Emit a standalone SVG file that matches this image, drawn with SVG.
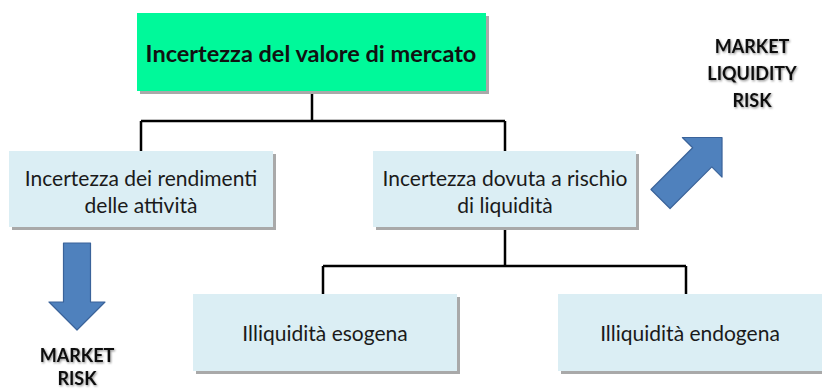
<svg xmlns="http://www.w3.org/2000/svg" width="822" height="390" viewBox="0 0 822 390">
<defs>
<style>
.shadow{fill:#a9a9a9;}
.green{fill:#00f99a;}
.blue{fill:#dbeef4;}
.t{font-family:Lato,"Open Sans","Liberation Sans",sans-serif;font-size:21px;fill:#1a1a1a;text-anchor:middle;}
.title{font-family:Lato,"Open Sans","Liberation Sans",sans-serif;font-size:23.5px;font-weight:bold;fill:#111;text-anchor:middle;}
.lbl{font-family:Lato,"Open Sans","Liberation Sans",sans-serif;font-size:18px;font-weight:bold;fill:#111;text-anchor:middle;}
.conn{fill:none;stroke:#000;stroke-width:2.5;}
.arrow{fill:#4f81bd;stroke:#3a639a;stroke-width:1.2;stroke-linejoin:round;}
</style>
<filter id="ts" x="-20%" y="-30%" width="140%" height="160%">
<feDropShadow dx="1" dy="1.2" stdDeviation="0.8" flood-color="#000" flood-opacity="0.45"/>
</filter>
<polygon id="blockArrow" points="0,-13.5 59,-13.5 59,-28 87,0 59,28 59,13.5 0,13.5"/>
</defs>
<rect width="822" height="390" fill="#fff"/>

<g id="connectors">
<path class="conn" d="M312,91 V121 M141,121 H505 M141,121 V151 M505,121 V151"/>
<path class="conn" d="M505,227 V266 M323,266 H686 M323,266 V294 M686,266 V294"/>
</g>

<g id="node-top">
<rect class="shadow" x="140" y="16" width="349" height="78"/>
<rect class="green" x="137" y="13" width="349" height="78"/>
<text class="title" x="311" y="62">Incertezza del valore di mercato</text>
</g>

<g id="node-rendimenti">
<rect class="shadow" x="12" y="154" width="264" height="76"/>
<rect class="blue" x="9" y="151" width="264" height="76"/>
<text class="t" x="141" y="186">Incertezza dei rendimenti</text>
<text class="t" x="141" y="213">delle attività</text>
</g>

<g id="node-liquidita">
<rect class="shadow" x="376" y="154" width="263" height="76"/>
<rect class="blue" x="373" y="151" width="263" height="76"/>
<text class="t" x="505" y="186">Incertezza dovuta a rischio</text>
<text class="t" x="505" y="213">di liquidità</text>
</g>

<g id="node-esogena">
<rect class="shadow" x="196" y="297" width="264" height="77"/>
<rect class="blue" x="193" y="294" width="264" height="77"/>
<text class="t" x="325" y="341">Illiquidità esogena</text>
</g>

<g id="node-endogena">
<rect class="shadow" x="561" y="297" width="264" height="77"/>
<rect class="blue" x="558" y="294" width="264" height="77"/>
<text class="t" x="690" y="341">Illiquidità endogena</text>
</g>

<g id="arrow-market-risk">
<use href="#blockArrow" class="arrow" transform="translate(77,243) rotate(90)"/>
<text class="lbl" x="77" y="362" filter="url(#ts)">MARKET</text>
<text class="lbl" x="77" y="385" filter="url(#ts)">RISK</text>
</g>

<g id="arrow-market-liquidity-risk">
<use href="#blockArrow" class="arrow" transform="translate(660.5,199) rotate(-45)"/>
<text class="lbl" x="752" y="53" filter="url(#ts)">MARKET</text>
<text class="lbl" x="752" y="80" filter="url(#ts)">LIQUIDITY</text>
<text class="lbl" x="752" y="107" filter="url(#ts)">RISK</text>
</g>
</svg>
